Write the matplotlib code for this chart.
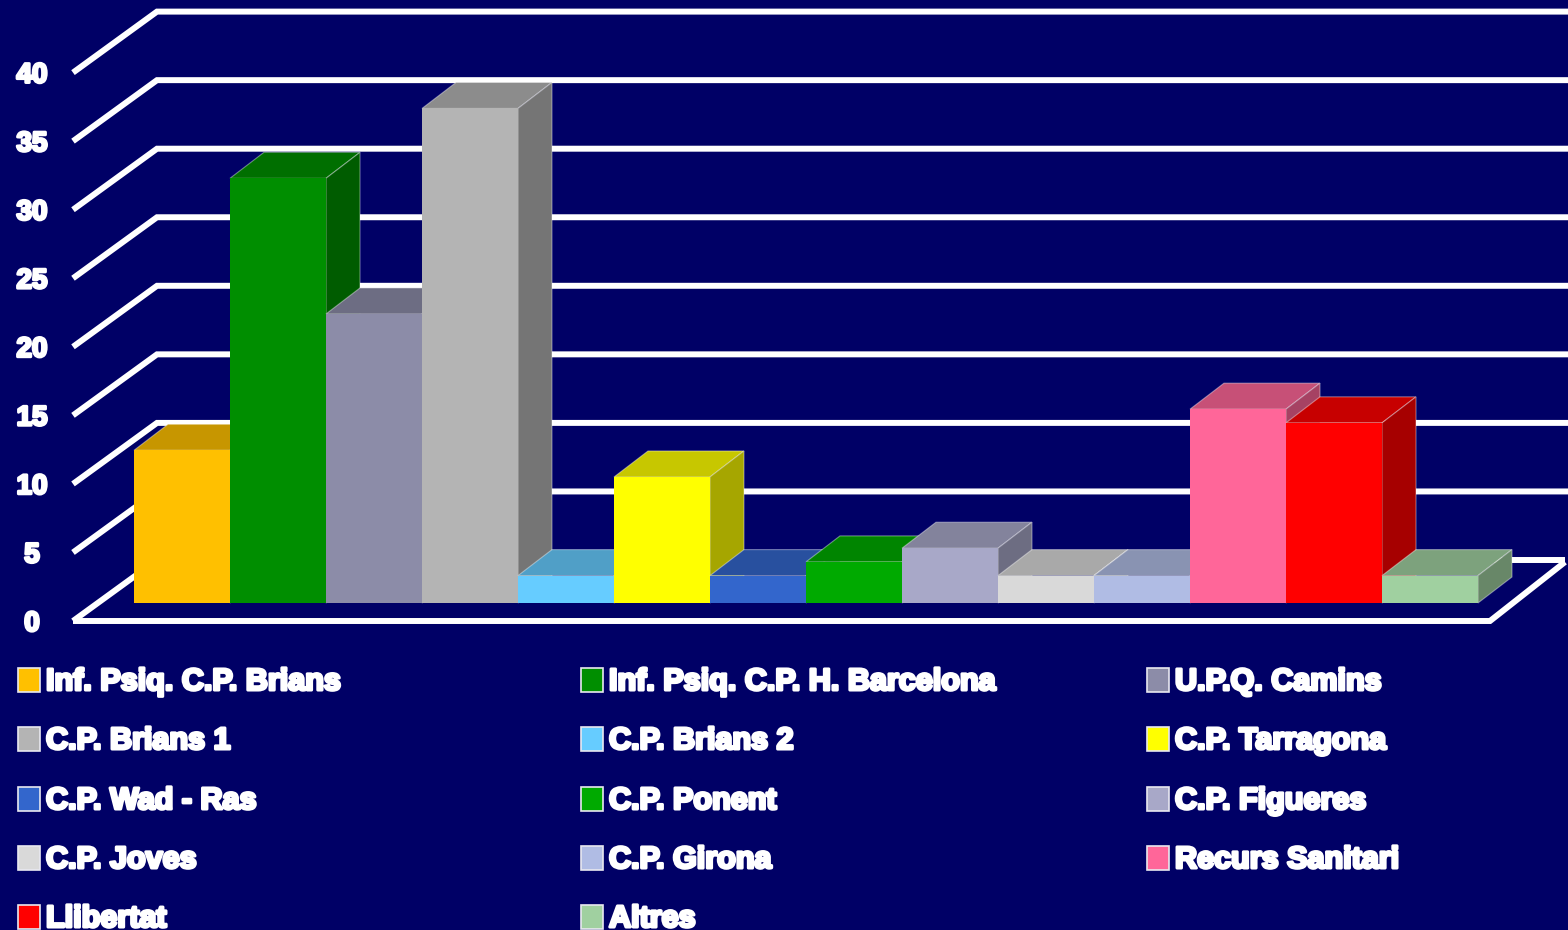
import matplotlib
matplotlib.use("Agg")
import matplotlib.pyplot as plt
import matplotlib.patheffects as pe
from matplotlib.colors import to_rgb
from matplotlib.patches import Rectangle

categories = ["Inf. Psiq. C.P. Brians", "Inf. Psiq. C.P. H. Barcelona", "U.P.Q. Camins",
              "C.P. Brians 1", "C.P. Brians 2", "C.P. Tarragona",
              "C.P. Wad - Ras", "C.P. Ponent", "C.P. Figueres",
              "C.P. Joves", "C.P. Girona", "Recurs Sanitari",
              "Llibertat", "Altres"]
values = [11.15, 31, 21.1, 36.1, 2, 9.2, 2, 3, 4, 2, 2, 14.15, 13.15, 2]
colors = ["#FFC000", "#008E00", "#8C8CA8", "#B4B4B4", "#66CCFF", "#FFFF00", "#3366CC",
          "#00AA00", "#A8A8C8", "#D9D9D9", "#B0BCE4", "#FF6699", "#FF0000", "#A0D0A0"]
ticks = [0, 5, 10, 15, 20, 25, 30, 35, 40]

W, H = 1568, 930
navy = "#000066"
fig = plt.figure(figsize=(W / 100, H / 100), dpi=100, facecolor=navy)

# pixel axes for the walls, tick labels and legend
bg = fig.add_axes([0, 0, 1, 1])
bg.set_xlim(0, W)
bg.set_ylim(H, 0)
bg.axis("off")

step = 68.55
for i, t in enumerate(ticks):
    yf = 621 - step * i
    yb = 560 - step * i
    bg.plot([73, 157, W if i else 1565], [yf, yb, yb], color="white", lw=4.3,
            solid_joinstyle="miter", solid_capstyle="butt")
    bg.text(32, yf + 3, str(t), color="white", fontsize=20, fontweight="bold",
            family="Liberation Sans", ha="center", va="center",
            path_effects=[pe.withStroke(linewidth=2.0, foreground="white")])
bg.plot([73, 1490, 1565], [621, 621, 562], color="white", lw=4.3,
        solid_joinstyle="miter", solid_capstyle="butt")

col_x = [18, 581, 1147]
row_y = [680, 739, 799, 858, 917]
for i, (name, c) in enumerate(zip(categories, colors)):
    x = col_x[i % 3]
    y = row_y[i // 3]
    bg.add_patch(Rectangle((x, y - 12), 22, 24, fc=c, ec="#E8E8F0", lw=1.2))
    bg.text(x + 28, y + 2, name, color="white", fontsize=22, fontweight="bold",
            family="Liberation Sans", ha="left", va="center", clip_on=True,
            path_effects=[pe.withStroke(linewidth=2.2, foreground="white")])

# data axes for the bars: 96 px per category, 13.7 px per unit
ax = fig.add_axes([0, 0, 1, 1], facecolor="none")
ax.set_xlim(-182 / 96, (W - 182) / 96)
ax.set_ylim(-(H - 603) / 13.7, 603 / 13.7)
ax.axis("off")

dx = 34 / 96
dy = 26 / 13.7
halo = (1, 1, 1, 0.4)
for i, (v, c) in enumerate(zip(values, colors)):
    rgb = to_rgb(c)
    top = tuple(k * 0.78 for k in rgb)
    side = tuple(k * 0.65 for k in rgb)
    l, r = i - 0.5, i + 0.5
    ax.fill([l, l + dx, r + dx, r], [v, v + dy, v + dy, v], fc=top, ec=halo, lw=0.8, zorder=2 + i)
    ax.fill([r, r + dx, r + dx, r], [0, dy, v + dy, v], fc=side, ec=halo, lw=0.8, zorder=2 + i)
    ax.bar(i, v, width=1, color=c, linewidth=0, zorder=2 + i)

fig.savefig("out.png", dpi=100, facecolor=navy)
